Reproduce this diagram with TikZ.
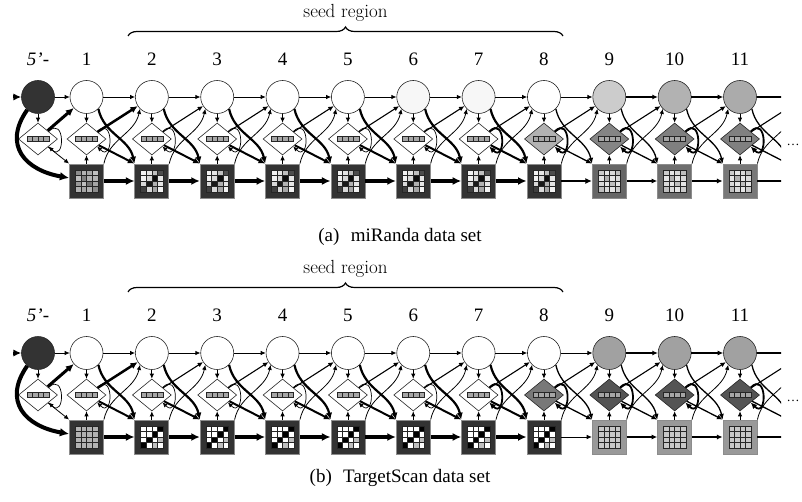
\documentclass[tikz,border=0pt]{standalone}
\usepackage{fontspec}
\newfontfamily\timesfont{Liberation Serif}
\usetikzlibrary{shapes.geometric, arrows.meta, decorations.pathreplacing}

% percent black of the 4x4 cells in the emission boxes
\def\gAone{45,30,35,25,25,50,30,30,40,25,55,35,30,35,30,45}
\def\gAseed{5,10,25,70,5,15,95,10,15,90,30,10,75,15,35,5}
\def\gAlight{20,10,15,25,10,30,10,15,15,10,25,10,25,15,10,20}
\def\gBone{30,30,30,30,30,30,30,30,30,30,30,30,30,30,30,30}
\def\gBseed{0,0,0,100,0,0,100,0,0,100,0,25,100,0,25,0}
\def\gBlight{22,22,22,22,22,22,22,22,22,22,22,22,22,22,22,22}

\tikzset{
  match/.style={circle, draw=black!85, line width=0.6pt, minimum size=33pt, inner sep=0pt},
  insert/.style={diamond, draw=black!85, line width=0.6pt, minimum width=39pt,
    minimum height=32pt, inner sep=0pt},
  emit/.style={rectangle, draw=black!45, line width=0.8pt, minimum size=34pt, inner sep=0pt},
  cell/.style={draw=black!85, line width=0.4pt},
  trans/.style={-{Latex[length=4pt 1.3, width=3.5pt 1.3]}, line width=0.8pt},
  colnum/.style={font=\timesfont\fontsize{19}{21}\selectfont},
  subcap/.style={font=\timesfont\fontsize{19}{21}\selectfont},
  seedlbl/.style={font=\fontsize{19}{21}\selectfont},
}

\begin{document}
\begin{tikzpicture}[x=1pt, y=1pt]
  \useasboundingbox (0,0) rectangle (802,501);

  % Seed region braces
  \draw[decorate, decoration={brace, amplitude=9pt}, line width=1.2pt] (128,465) -- (563,465);
  \node[seedlbl] (a-seed) at (345.5,488) {seed region};
  \draw[decorate, decoration={brace, amplitude=9pt}, line width=1.2pt] (128,209) -- (563,209);
  \node[seedlbl] (b-seed) at (345.5,232) {seed region};

  % 5'- column and entry points
  \foreach \p/\yo in {a/0, b/-256} {
    \node[match, fill=black!80] (\p-c0) at (38,404+\yo) {};
    \node[insert, fill=white] (\p-d0) at (38,362+\yo) {};
    \foreach \j in {0,...,3}
      \draw[cell, fill=black!35, shift={(\p-d0)}] (-11+5.5*\j,-2.6) rectangle ++(5.5,5.2);
    \node[colnum] (\p-l0) at (38,442+\yo) {\itshape 5’-};
    \coordinate (\p-in) at (13,404+\yo);
  }

  % Columns 1..11: state, insert diamond, emission box
  \foreach \k/\ca/\da/\sa/\ga/\cb/\db/\sb/\gb in {
    1/0/0/80/\gAone/0/0/80/\gBone,
    2/0/0/80/\gAseed/0/0/80/\gBseed,
    3/0/0/80/\gAseed/0/0/80/\gBseed,
    4/0/0/80/\gAseed/0/0/80/\gBseed,
    5/0/0/80/\gAseed/0/0/80/\gBseed,
    6/3/0/80/\gAseed/0/0/80/\gBseed,
    7/3/0/80/\gAseed/0/0/80/\gBseed,
    8/0/30/80/\gAseed/0/53/80/\gBseed,
    9/20/48/60/\gAlight/37/67/40/\gBlight,
    10/30/50/57/\gAlight/37/67/40/\gBlight,
    11/33/50/53/\gAlight/37/67/40/\gBlight
  }{
    \pgfmathsetmacro\xx{86.5+(\k-1)*65.35}
    \foreach \p/\yo/\cf/\df/\sf/\g in {a/0/\ca/\da/\sa/\ga, b/-256/\cb/\db/\sb/\gb} {
      \node[match, fill=black!\cf] (\p-c\k) at (\xx,404+\yo) {};
      \node[insert, fill=black!\df] (\p-d\k) at (\xx,362+\yo) {};
      \node[emit, fill=black!\sf] (\p-s\k) at (\xx,320+\yo) {};
      \foreach \j in {0,...,3}
        \draw[cell, fill=black!35, shift={(\p-d\k)}] (-11+5.5*\j,-2.6) rectangle ++(5.5,5.2);
      \edef\cells{\g}
      \foreach \v [count=\n from 0] in \cells {
        \pgfmathtruncatemacro\row{div(\n,4)}
        \pgfmathtruncatemacro\col{mod(\n,4)}
        \draw[cell, fill=black!\v, shift={(\p-s\k)}]
          (-11.2+5.6*\col,11.2-5.6*\row) rectangle ++(5.6,-5.6);
      }
      \node[colnum] (\p-l\k) at (\xx,442+\yo) {\k};
    }
  }

  % phantom column 12, cut off at the right edge
  \foreach \p/\yo in {a/0, b/-256} {
    \node[match, draw=none] (\p-c12) at (805.35,404+\yo) {};
    \node[emit, draw=none] (\p-s12) at (805.35,320+\yo) {};
    \node[colnum, font=\timesfont\fontsize{13}{15}\selectfont, anchor=west] (\p-more)
      at (783,356+\yo) {\dots};
  }

  % Transitions
  \begin{scope}
    \clip (0,0) rectangle (781,501);
    \foreach \p/\ew in {a/2, b/0.9} {
      \draw[trans, line width=3pt] (\p-in) -- (\p-c0);
      \draw[trans] (\p-c0) -- (\p-c1);
      \draw[trans] (\p-c0) -- (\p-d0);
      \draw[trans, line width=0.7pt] (\p-d0.35) to[out=45, in=-45, looseness=4] (\p-d0.-35);
      \draw[trans, line width=3pt] (\p-d0) -- (\p-c1);
      \draw[trans] (\p-d0) -- (\p-s1.north west);
      \draw[trans, line width=4pt] (\p-c0.230) to[out=235, in=170, looseness=1.4] (\p-s1.170);
      \foreach \k in {1,...,11} {
        \pgfmathtruncatemacro\kk{\k+1}
        \pgfmathsetmacro\ssw{\k<8 ? 3.5 : (\k==8 ? \ew : 1.3)}
        \pgfmathsetmacro\ccw{\k<9 ? 0.8 : 1.2}
        \pgfmathsetmacro\csw{\k<8 ? 2.2 : 1.3}
        \pgfmathsetmacro\dsw{\k<8 ? 2 : 1.3}
        \pgfmathsetmacro\dcw{\k==1 ? 2.5 : 1.1}
        \pgfmathsetmacro\lpw{\k<7 ? 0.7 : 1.8}
        \draw[trans] (\p-c\k) -- (\p-d\k);
        \draw[trans] (\p-s\k) -- (\p-d\k);
        \draw[trans, line width=\lpw pt] (\p-d\k.35) to[out=45, in=-45, looseness=4] (\p-d\k.-35);
        \draw[trans, line width=\ccw pt] (\p-c\k) -- (\p-c\kk);
        \draw[trans, line width=\ssw pt] (\p-s\k) -- (\p-s\kk);
        \draw[trans, line width=\dcw pt] (\p-d\k) -- (\p-c\kk);
        \draw[trans, line width=\dsw pt] (\p-d\k) -- (\p-s\kk.north west);
        \draw[trans, line width=\csw pt] (\p-c\k.-45) to[out=-78, in=102] (\p-s\kk.north west);
        \draw[trans] (\p-s\k.north east) to[out=78, in=-102] (\p-c\kk.225);
      }
    }
  \end{scope}

  % Sub-captions
  \node[subcap] (a-cap) at (400,264) {(a)\hspace{0.6em}miRanda data set};
  \node[subcap] (b-cap) at (400,23) {(b)\hspace{0.6em}TargetScan data set};
\end{tikzpicture}
\end{document}
